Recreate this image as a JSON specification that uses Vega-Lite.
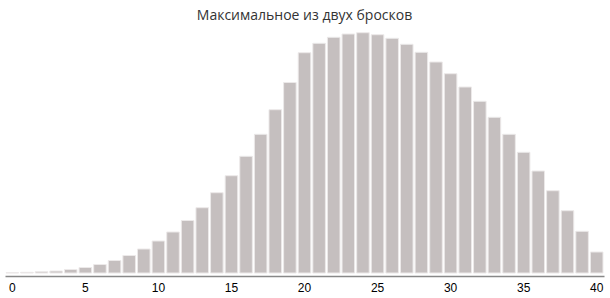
{
  "$schema": "https://vega.github.io/schema/vega-lite/v6.json",
  "width": 599,
  "height": 243,
  "autosize": {"type": "none"},
  "padding": {"left": 5, "right": 6, "top": 30, "bottom": 25},
  "background": "white",
  "title": {
    "text": "Максимальное из двух бросков",
    "font": "Open Sans",
    "fontSize": 14,
    "fontWeight": "normal",
    "color": "#333333",
    "anchor": "middle",
    "offset": 7
  },
  "data": {
    "values": [
      {"v": 0, "p": 0.3}, {"v": 1, "p": 0.7}, {"v": 2, "p": 1.3}, {"v": 3, "p": 2},
      {"v": 4, "p": 3.5}, {"v": 5, "p": 5.5}, {"v": 6, "p": 8.5}, {"v": 7, "p": 12.5},
      {"v": 8, "p": 17.5}, {"v": 9, "p": 24}, {"v": 10, "p": 32}, {"v": 11, "p": 41},
      {"v": 12, "p": 52.5}, {"v": 13, "p": 65.3}, {"v": 14, "p": 80.3}, {"v": 15, "p": 97.3},
      {"v": 16, "p": 116.7}, {"v": 17, "p": 138.7}, {"v": 18, "p": 163.3}, {"v": 19, "p": 190.5},
      {"v": 20, "p": 220.3}, {"v": 21, "p": 229.7}, {"v": 22, "p": 235.7}, {"v": 23, "p": 239},
      {"v": 24, "p": 240.3}, {"v": 25, "p": 238.3}, {"v": 26, "p": 234.7}, {"v": 27, "p": 228.7},
      {"v": 28, "p": 220.7}, {"v": 29, "p": 211}, {"v": 30, "p": 199.3}, {"v": 31, "p": 186},
      {"v": 32, "p": 171.7}, {"v": 33, "p": 155.7}, {"v": 34, "p": 138.7}, {"v": 35, "p": 120.7},
      {"v": 36, "p": 102}, {"v": 37, "p": 82.3}, {"v": 38, "p": 62.3}, {"v": 39, "p": 41.7},
      {"v": 40, "p": 21}
    ]
  },
  "mark": {"type": "bar", "fill": "#c5bfbf", "stroke": "#ece9e9", "strokeWidth": 1},
  "encoding": {
    "x": {
      "field": "v",
      "type": "ordinal",
      "sort": null,
      "scale": {"paddingInner": 0.14, "paddingOuter": 0.07},
      "axis": {
        "title": null,
        "values": [0, 5, 10, 15, 20, 25, 30, 35, 40],
        "labelAngle": 0,
        "ticks": false,
        "labelPadding": 6,
        "labelFont": "Liberation Sans",
        "labelFontSize": 12,
        "labelColor": "#000000",
        "domainColor": "#888888",
        "domainWidth": 1.5,
        "offset": 3,
        "grid": false
      }
    },
    "y": {
      "field": "p",
      "type": "quantitative",
      "scale": {"domain": [0, 243], "nice": false},
      "axis": null
    }
  },
  "config": {"view": {"stroke": null}}
}
